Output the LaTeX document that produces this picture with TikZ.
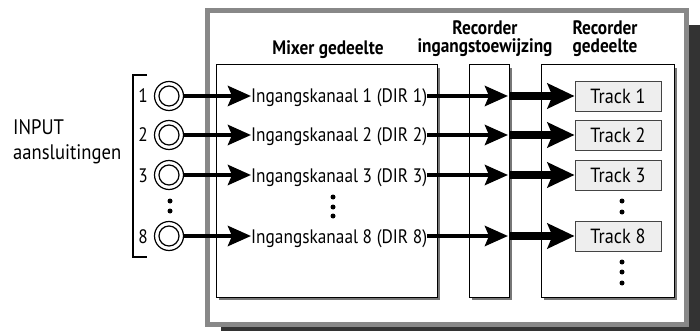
\documentclass[tikz,border=0pt]{standalone}
\usepackage{fontspec}
\setmainfont{PT Sans}[FakeStretch=0.887]
\usetikzlibrary{arrows.meta}
\definecolor{shadowdark}{HTML}{333333}
\definecolor{bordergray}{HTML}{888888}
\definecolor{boxshadow}{HTML}{777777}
\definecolor{trackfill}{HTML}{EEEEEE}
\definecolor{trackline}{HTML}{444444}
\begin{document}
\begin{tikzpicture}[x=1pt,y=-1pt,
  panel/.style={draw=black,line width=1pt,fill=white},
  panelshadow/.style={fill=boxshadow},
  jackouter/.style={circle,draw,line width=1.2pt,minimum size=29pt,inner sep=0pt},
  lbl/.style={font=\fontsize{19.5}{21}\selectfont,inner sep=0pt},
  heading/.style={font=\bfseries\fontsize{19.5}{18}\selectfont,align=center,inner sep=0pt},
  sig/.style={line width=4.5pt,-{Stealth[length=23pt,width=20pt,inset=4pt]}},
  bigsig/.style={line width=7.5pt,-{Stealth[length=27pt,width=25pt,inset=5pt]}},
  dotmark/.style={circle,fill=black,inner sep=0pt,minimum size=5pt},
  trackbox/.style={draw=trackline,line width=1pt,fill=trackfill,minimum width=86pt,minimum height=30pt,inner sep=0pt,font=\fontsize{20.5}{21}\selectfont}
]
\useasboundingbox (0,0) rectangle (700,331);
% outer frame with shadow
\fill[shadowdark] (221,25) rectangle (700,331);
\draw[bordergray,line width=5pt,fill=white] (207.5,10.5) rectangle (686.5,324.5);
% panels
\fill[panelshadow] (219,68) rectangle (440,300);
\draw[panel] (216,65) rectangle (437,297);
\fill[panelshadow] (472,68) rectangle (512,300);
\draw[panel] (469,65) rectangle (509,297);
\fill[panelshadow] (544,68) rectangle (677,300);
\draw[panel] (541,65) rectangle (674,297);
% headings
\node[heading,anchor=base] (hmix) at (328,55) {Mixer gedeelte};
\node[heading,anchor=base] (hrouter) at (485,53) {Recorder\\[0pt]ingangstoewijzing};
\node[heading,anchor=base] (hrec) at (605,53) {Recorder\\[0pt]gedeelte};
% input label
\node[anchor=base west,align=left,inner sep=0pt,font=\fontsize{21}{25}\selectfont] (inlabel) at (13,160) {INPUT\\aansluitingen};
% bracket
\draw[line width=2pt] (147,75) -- (133,75) -- (133,257) -- (147,257);
% rows
\foreach \n/\y in {1/96,2/135,3/175,8/236}{
  \node[jackouter] (j\n) at (169,\y) {};
  \draw[line width=1.2pt] (j\n.center) circle[radius=10pt];
  \node[lbl,anchor=base] (num\n) at (143,\y+7) {\n};
  \node[lbl,anchor=base west] (c\n) at (251,\y+7) {Ingangskanaal \n{} (DIR \n)};
  \node[trackbox] (t\n) at (618,\y+0.5) {Track \n};
  \coordinate (rin\n) at (508,\y);
  \coordinate (rout\n) at (510,\y);
  \draw[sig] (j\n.east) -- (c\n.west |- j\n.east);
  \draw[sig] (c\n.east |- rin\n) -- (rin\n);
  \draw[bigsig] (rout\n) -- (t\n.west |- rout\n);
}
% dots
\node[dotmark] (jd1) at (170,201) {};
\node[dotmark] (jd2) at (170,211) {};
\node[dotmark] (md1) at (333,197) {};
\node[dotmark] (md2) at (333,207) {};
\node[dotmark] (md3) at (333,216) {};
\node[dotmark] (td1) at (622,201) {};
\node[dotmark] (td2) at (622,212) {};
\node[dotmark] (te1) at (622,262) {};
\node[dotmark] (te2) at (622,272) {};
\node[dotmark] (te3) at (622,283) {};
\end{tikzpicture}
\end{document}
